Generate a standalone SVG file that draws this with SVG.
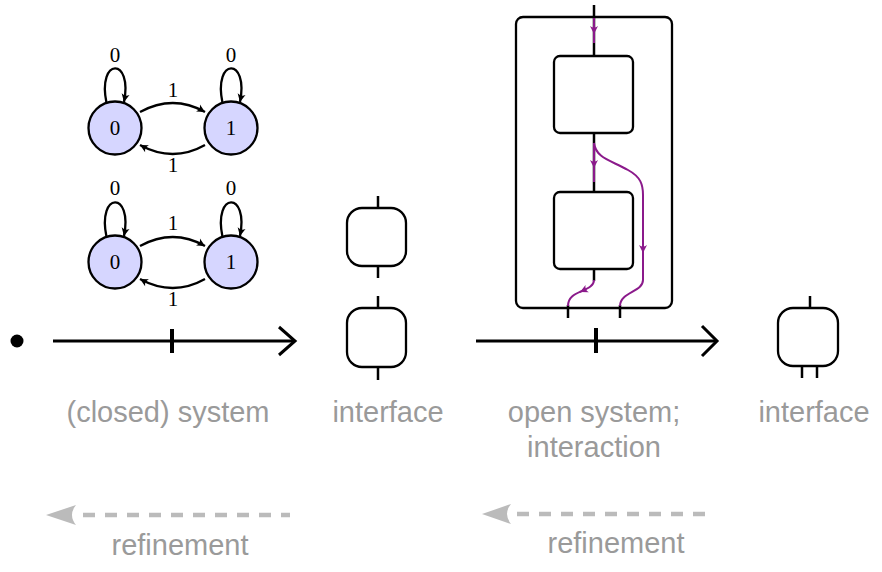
<svg xmlns="http://www.w3.org/2000/svg" width="882" height="572" viewBox="0 0 882 572">
<style>
.st{fill:#d6d6ff;stroke:#000;stroke-width:2.3}
.fl{font-family:"Liberation Serif",serif;font-size:21px;fill:#000;text-anchor:middle}
.ed{fill:none;stroke:#000;stroke-width:2.3}
.lab{font-family:"Liberation Sans",Arial,sans-serif;font-size:29px;fill:#9a9a9a;text-anchor:middle}
.box{fill:#fff;stroke:#000;stroke-width:2.3}
.stub{stroke:#000;stroke-width:2.5;fill:none}
.pur{stroke:#8b1a8b;stroke-width:2;fill:none}
.tl{stroke:#000;stroke-width:3;fill:none}
.ref{stroke:#bbb;stroke-width:4.5;stroke-dasharray:12 10;fill:none}
</style>
<defs>
<marker id="ab" markerUnits="userSpaceOnUse" viewBox="-9 -5 10 10" refX="0" refY="0" markerWidth="10" markerHeight="10" orient="auto">
<path d="M0,0 L-8,-4 Q-5,0 -8,4 Z" fill="#000"/>
</marker>
<marker id="ap" markerUnits="userSpaceOnUse" viewBox="-9 -5 10 10" refX="0" refY="0" markerWidth="10" markerHeight="10" orient="auto">
<path d="M0,0 L-8,-4 Q-5,0 -8,4 Z" fill="#8b1a8b"/>
</marker>
</defs>

<g id="connectors">
<!-- FSM top -->
<path class="ed" d="M106.5,103 C97,57 133,57 124,102" marker-end="url(#ab)"/>
<path class="ed" d="M222.5,103 C213,57 249,57 240,102" marker-end="url(#ab)"/>
<path class="ed" d="M140,112 Q173,94 205,112" marker-end="url(#ab)"/>
<path class="ed" d="M205,145 Q173,163 140,145" marker-end="url(#ab)"/>
<!-- FSM bottom -->
<path class="ed" d="M106.5,237 C97,191 133,191 124,236" marker-end="url(#ab)"/>
<path class="ed" d="M222.5,237 C213,191 249,191 240,236" marker-end="url(#ab)"/>
<path class="ed" d="M140,246 Q173,228 205,246" marker-end="url(#ab)"/>
<path class="ed" d="M205,279 Q173,297 140,279" marker-end="url(#ab)"/>
<!-- timelines -->
<line class="tl" x1="53" y1="341" x2="294" y2="341"/>
<polyline class="tl" points="279,327 295,341 279,355"/>
<line x1="172" y1="329" x2="172" y2="353" stroke="#000" stroke-width="4"/>
<line class="tl" x1="476" y1="341" x2="716" y2="341"/>
<polyline class="tl" points="702,326 717,341 702,356"/>
<line x1="596" y1="328" x2="596" y2="353" stroke="#000" stroke-width="4"/>
<!-- refinement arrows -->
<line class="ref" x1="83" y1="515" x2="290" y2="515"/>
<path d="M46,515 L76,505 Q68,515 76,525 Z" fill="#bbb"/>
<line class="ref" x1="517" y1="514" x2="715" y2="514"/>
<path d="M482,514 L511,504 Q503,514 511,524 Z" fill="#bbb"/>
</g>

<g id="fsm-top">
<circle class="st" cx="115" cy="128" r="26.5"/>
<circle class="st" cx="231" cy="128" r="26.5"/>
<text class="fl" x="115" y="135">0</text>
<text class="fl" x="231" y="135">1</text>
<text class="fl" x="115" y="62">0</text>
<text class="fl" x="231" y="62">0</text>
<text class="fl" x="173" y="97">1</text>
<text class="fl" x="173" y="172">1</text>
</g>

<g id="fsm-bottom">
<circle class="st" cx="115" cy="262" r="26.5"/>
<circle class="st" cx="231" cy="262" r="26.5"/>
<text class="fl" x="115" y="269">0</text>
<text class="fl" x="231" y="269">1</text>
<text class="fl" x="115" y="195">0</text>
<text class="fl" x="231" y="195">0</text>
<text class="fl" x="173" y="230">1</text>
<text class="fl" x="173" y="306">1</text>
</g>

<g id="start-dot">
<circle cx="17" cy="341" r="6.5" fill="#000"/>
</g>

<g id="interface-1">
<line class="stub" x1="378" y1="196" x2="378" y2="208"/>
<line class="stub" x1="378" y1="266" x2="378" y2="278"/>
<rect class="box" x="347" y="208" width="59" height="58" rx="15"/>
<line class="stub" x1="378" y1="296" x2="378" y2="308"/>
<line class="stub" x1="378" y1="367" x2="378" y2="380"/>
<rect class="box" x="347" y="308" width="59" height="59" rx="15"/>
</g>

<g id="open-system">
<rect class="box" x="516" y="17" width="156" height="291" rx="7"/>
<line class="stub" x1="594" y1="5" x2="594" y2="56"/>
<line class="stub" x1="594" y1="133" x2="594" y2="192"/>
<line class="stub" x1="594" y1="269" x2="594" y2="281"/>
<line class="stub" x1="568" y1="305" x2="568" y2="318"/>
<line class="stub" x1="620" y1="305" x2="620" y2="318"/>
<rect class="box" x="554" y="56" width="79" height="77" rx="6"/>
<rect class="box" x="554" y="192" width="79" height="77" rx="6"/>
<line class="pur" x1="594" y1="18" x2="594" y2="34" marker-end="url(#ap)"/>
<line class="pur" x1="594" y1="33" x2="594" y2="43"/>
<line class="pur" x1="594" y1="143" x2="594" y2="168" marker-end="url(#ap)"/>
<line class="pur" x1="594" y1="167" x2="594" y2="182"/>
<path class="pur" d="M594,143 C596,158 610,160 628,170 C641,177 643,185 643,195 L643,253" marker-end="url(#ap)"/>
<path class="pur" d="M643,252 L643,280 C643,292 620,292 620,306"/>
<path class="pur" d="M594,280 C594,286 587.5,288.5 580,292" marker-end="url(#ap)"/>
<path class="pur" d="M581,291.4 C574.5,294.25 568,297.5 568,306"/>
</g>

<g id="interface-2">
<line class="stub" x1="810" y1="296" x2="810" y2="308"/>
<line class="stub" x1="802" y1="366" x2="802" y2="378"/>
<line class="stub" x1="817" y1="366" x2="817" y2="378"/>
<rect class="box" x="778" y="308" width="60" height="58" rx="15"/>
</g>

<g id="labels">
<text class="lab" x="168" y="422">(closed) system</text>
<text class="lab" x="388" y="422">interface</text>
<text class="lab" x="594" y="422">open system;</text>
<text class="lab" x="594" y="457">interaction</text>
<text class="lab" x="814" y="422">interface</text>
<text class="lab" x="180" y="555">refinement</text>
<text class="lab" x="616" y="553">refinement</text>
</g>
</svg>
